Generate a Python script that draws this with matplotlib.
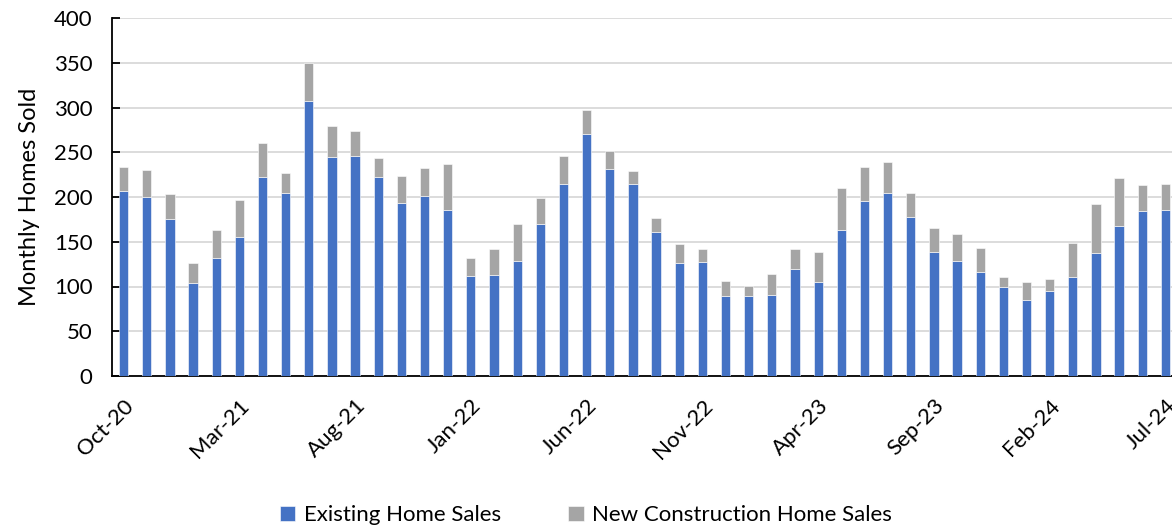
import numpy as np
import matplotlib
matplotlib.use("Agg")
import matplotlib.pyplot as plt

# Monthly sales, Oct-20 .. Jul-24
months = ["Oct-20", "Nov-20", "Dec-20",
          "Jan-21", "Feb-21", "Mar-21", "Apr-21", "May-21", "Jun-21",
          "Jul-21", "Aug-21", "Sep-21", "Oct-21", "Nov-21", "Dec-21",
          "Jan-22", "Feb-22", "Mar-22", "Apr-22", "May-22", "Jun-22",
          "Jul-22", "Aug-22", "Sep-22", "Oct-22", "Nov-22", "Dec-22",
          "Jan-23", "Feb-23", "Mar-23", "Apr-23", "May-23", "Jun-23",
          "Jul-23", "Aug-23", "Sep-23", "Oct-23", "Nov-23", "Dec-23",
          "Jan-24", "Feb-24", "Mar-24", "Apr-24", "May-24", "Jun-24", "Jul-24"]

existing = [207, 200, 175, 104, 132, 155, 222, 204, 307, 245, 246, 222, 193, 201, 186,
            112, 113, 128, 170, 215, 270, 231, 214, 161, 126, 127, 89, 89, 90, 119,
            105, 163, 196, 204, 178, 138, 129, 116, 100, 85, 95, 111, 137, 168, 184, 186]

new_construction = [26, 30, 28, 22, 31, 42, 38, 23, 43, 34, 28, 22, 31, 31, 51,
                    20, 29, 42, 29, 31, 27, 20, 15, 16, 22, 15, 17, 12, 24, 23,
                    34, 47, 37, 35, 26, 27, 30, 27, 11, 20, 13, 38, 55, 53, 29, 28]

BLUE = "#4472C4"
GREY = "#A5A5A5"

plt.rcParams["font.family"] = ["Lato", "DejaVu Sans"]

fig = plt.figure(figsize=(11.72, 5.31), dpi=100)
ax = fig.add_axes([112 / 1172, 155 / 531, 1065 / 1172, 358 / 531])

x = np.arange(len(months))
ax.bar(x, existing, width=0.4, color=BLUE, edgecolor="white", linewidth=0.4,
       label="Existing Home Sales", zorder=3)
ax.bar(x, new_construction, width=0.4, bottom=existing, color=GREY, edgecolor="white",
       linewidth=0.4, label="New Construction Home Sales", zorder=3)

ax.set_xlim(-0.5, len(months) - 0.5)
ax.set_ylim(0, 400)
ax.set_yticks(np.arange(0, 401, 50))
ax.yaxis.grid(True, color="#D9D9D9", linewidth=1.3, zorder=0)
ax.set_axisbelow(True)

ticks = x[::5]
ax.set_xticks(ticks)
ax.set_xticklabels([months[i] for i in ticks], rotation=45, ha="right",
                   rotation_mode="anchor", fontsize=16)
ax.tick_params(axis="x", length=0, pad=14)
ax.tick_params(axis="y", direction="in", length=6, width=1.3, labelsize=16, pad=14)

for side in ("top", "right"):
    ax.spines[side].set_visible(False)
for side in ("left", "bottom"):
    ax.spines[side].set_linewidth(1.3)
    ax.spines[side].set_color("black")

ax.set_ylabel("Monthly Homes Sold", fontsize=17, labelpad=10)

handles, labels = ax.get_legend_handles_labels()
fig.legend(handles, labels, loc="center", bbox_to_anchor=(0.5, 0.03), ncol=2,
           frameon=False, fontsize=16, handlelength=0.7, handleheight=0.7,
           handletextpad=0.4, columnspacing=3.0)

fig.savefig("out.png", dpi=100)
